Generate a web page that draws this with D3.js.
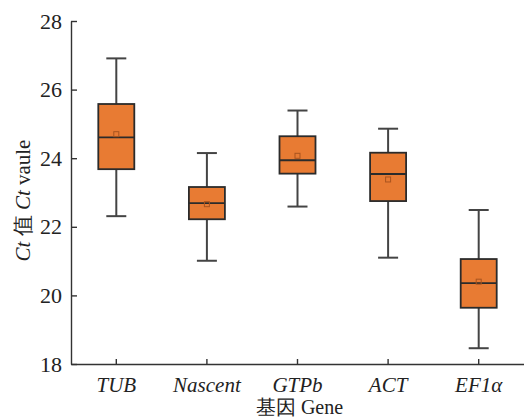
<!DOCTYPE html>
<html>
<head>
<meta charset="utf-8">
<script src="https://cdn.jsdelivr.net/npm/d3@7"></script>
<style>
  body { margin: 0; background: #fff; }
</style>
</head>
<body>
<div class="chart"></div>
<script>
// genes on the x axis
var genes = ["TUB", "Nascent", "GTPb", "ACT", "EF1α"];
// box plot statistics
var whiskerLow  = [22.31, 21.01, 22.59, 21.10, 18.46];
var q1          = [23.68, 22.22, 23.55, 22.75, 19.64];
var median      = [24.61, 22.69, 23.94, 23.54, 20.36];
var q3          = [25.58, 23.16, 24.64, 24.16, 21.06];
var whiskerHigh = [26.91, 24.15, 25.39, 24.86, 22.49];
var mean        = [24.70, 22.66, 24.07, 23.38, 20.40];
var yTicks = [18, 20, 22, 24, 26, 28];

var data = genes.map(function(g, i) {
    return {gene: g, lo: whiskerLow[i], q1: q1[i], med: median[i], q3: q3[i], hi: whiskerHigh[i], mean: mean[i]};
});

var serif = "'Liberation Serif', 'DejaVu Serif', serif";

var margin = { top: 21, right: 0, bottom: 55, left: 71 },
    width = 524 - margin.left - margin.right,
    height = 419 - margin.top - margin.bottom,
    boxWidth = 36,
    capWidth = 20;

var x = d3.scaleBand().domain(genes).range([0, width]),
    y = d3.scaleLinear().domain([18, 28]).range([height, 0]);

var svg = d3.select(".chart").append("svg")
    .attr("width", 524)
    .attr("height", 419)
    .attr("font-family", serif)
    .append("g")
    .attr("transform", "translate(" + margin.left + "," + margin.top + ")");

function cx(d) { return x(d.gene) + x.bandwidth() / 2; }

// axes, ticks point inwards
var yAxis = svg.append("g")
    .call(d3.axisLeft(y).tickValues(yTicks).tickSize(-6).tickPadding(9).tickSizeOuter(0));
yAxis.attr("font-family", serif);
yAxis.selectAll("text")
    .style("font-family", serif)
    .style("font-size", "22px")
    .style("fill", "#222");

var xAxis = svg.append("g")
    .attr("transform", "translate(0," + height + ")")
    .call(d3.axisBottom(x).tickSize(-5).tickPadding(10).tickSizeOuter(0));
xAxis.attr("font-family", serif);
xAxis.selectAll("text")
    .style("font-family", serif)
    .style("font-size", "21px")
    .style("font-style", "italic")
    .style("fill", "#222")
    .attr("dy", "0.85em");

svg.selectAll(".domain, .tick line").attr("stroke", "#333").attr("stroke-width", 1.4);

// whiskers
var g = svg.selectAll(".box").data(data).enter().append("g").attr("class", "box");

g.append("line")
    .attr("x1", cx).attr("x2", cx)
    .attr("y1", function(d) { return y(d.lo); })
    .attr("y2", function(d) { return y(d.hi); })
    .attr("stroke", "#444").attr("stroke-width", 2);

g.selectAll(".cap")
    .data(function(d) { return [d.lo, d.hi].map(function(v) { return {c: cx(d), v: v}; }); })
    .enter().append("line")
    .attr("x1", function(d) { return d.c - capWidth / 2; })
    .attr("x2", function(d) { return d.c + capWidth / 2; })
    .attr("y1", function(d) { return y(d.v); })
    .attr("y2", function(d) { return y(d.v); })
    .attr("stroke", "#444").attr("stroke-width", 2);

// boxes
g.append("rect")
    .attr("x", function(d) { return cx(d) - boxWidth / 2; })
    .attr("width", boxWidth)
    .attr("y", function(d) { return y(d.q3); })
    .attr("height", function(d) { return y(d.q1) - y(d.q3); })
    .attr("fill", "#e87b33")
    .attr("stroke", "#2b2b2b").attr("stroke-width", 1.8);

g.append("line")
    .attr("x1", function(d) { return cx(d) - boxWidth / 2; })
    .attr("x2", function(d) { return cx(d) + boxWidth / 2; })
    .attr("y1", function(d) { return y(d.med); })
    .attr("y2", function(d) { return y(d.med); })
    .attr("stroke", "#2b2b2b").attr("stroke-width", 1.8);

// mean marker
g.append("rect")
    .attr("x", function(d) { return cx(d) - 2.5; })
    .attr("y", function(d) { return y(d.mean) - 2.5; })
    .attr("width", 5).attr("height", 5)
    .attr("fill", "none")
    .attr("stroke", "#a9541f").attr("stroke-width", 1);

// axis titles
svg.append("text")
    .attr("x", width / 2 + 2)
    .attr("y", height + 50)
    .attr("text-anchor", "middle")
    .style("font-family", serif)
    .style("font-size", "20px")
    .style("fill", "#222")
    .text("基因 Gene");

var yLabel = svg.append("text")
    .attr("transform", "translate(" + (-41) + "," + (y(23) + 8) + ") rotate(-90)")
    .attr("text-anchor", "middle")
    .style("font-family", serif)
    .style("font-size", "21px")
    .style("fill", "#222");
yLabel.append("tspan").style("font-style", "italic").text("Ct");
yLabel.append("tspan").text(" 值 ");
yLabel.append("tspan").style("font-style", "italic").text("Ct");
yLabel.append("tspan").text(" vaule");
</script>
</body>
</html>
